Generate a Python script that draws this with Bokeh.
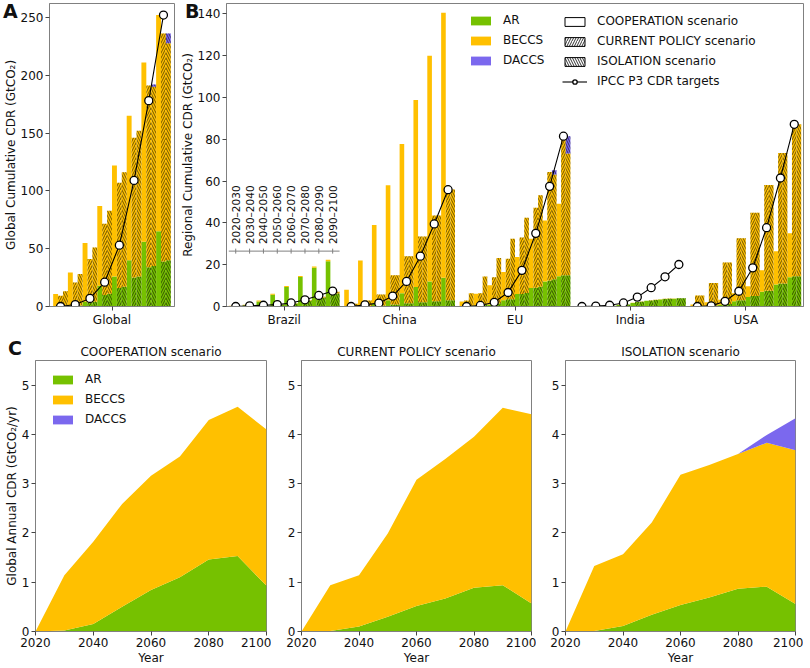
import numpy as np
from bokeh.plotting import figure
from bokeh.models import ColumnDataSource, Range1d, FixedTicker, Legend, LegendItem, Div
from bokeh.layouts import row, column
from bokeh.embed import file_html
from bokeh.resources import INLINE
from bokeh.core.properties import value

FONT = "DejaVu Sans"
GREEN = "#76c100"
ORANGE = "#ffc000"
PURPLE = "#7b68ee"
SPINE = "#808080"
TEXT = "#111111"

PERIODS = ["2020–2030", "2030–2040", "2040–2050", "2050–2060",
           "2060–2070", "2070–2080", "2080–2090", "2090–2100"]
REGIONS = ["Brazil", "China", "EU", "India", "USA"]
YEARS = [2020, 2030, 2040, 2050, 2060, 2070, 2080, 2090, 2100]
ZERO8 = [0, 0, 0, 0, 0, 0, 0, 0]

# ---------------- Panel A: global cumulative CDR (GtCO2) ----------------
GLOBAL_COOP_AR = [0.3, 0.8, 4.0, 18.0, 26.0, 40.0, 56.0, 65.0]
GLOBAL_COOP_BECCS = [10.6, 28.5, 51.0, 69.0, 96.0, 125.0, 155.0, 187.0]
GLOBAL_CP_AR = [0.2, 0.8, 3.5, 10.0, 16.0, 25.0, 34.0, 39.0]
GLOBAL_CP_BECCS = [9.0, 19.9, 37.5, 61.5, 91.0, 121.0, 157.0, 197.0]
GLOBAL_ISO_AR = [0.2, 0.8, 4.0, 11.0, 17.0, 26.0, 35.0, 40.0]
GLOBAL_ISO_BECCS = [13.0, 27.3, 47.0, 71.7, 99.0, 126.0, 155.0, 187.7]
GLOBAL_ISO_DACCS = [0, 0, 0, 0, 0, 0, 2.0, 8.3]
GLOBAL_TARGET = [0, 1.7, 7.0, 21.0, 53.0, 109.0, 178.0, 252.0]

# ---------------- Panel B: regional cumulative CDR (GtCO2) ----------------
BRAZIL_COOP_AR = [0.25, 0.6, 2.4, 5.6, 9.3, 14.1, 18.6, 21.6]
BRAZIL_COOP_BECCS = [0.05, 0.2, 0.5, 0.5, 0.5, 0.5, 0.6, 0.8]
BRAZIL_CP_AR = [0.1, 0.2, 0.35, 0.7, 1.3, 2.5, 4.0, 6.0]
BRAZIL_CP_BECCS = [0.0, 0.0, 0.05, 0.1, 0.2, 0.3, 0.5, 0.8]
BRAZIL_ISO_AR = [0.1, 0.2, 0.35, 0.8, 1.4, 2.7, 4.2, 6.2]
BRAZIL_ISO_BECCS = [0.0, 0.0, 0.05, 0.1, 0.2, 0.3, 0.5, 0.8]
BRAZIL_TARGET = [0, 0.3, 0.6, 0.9, 1.7, 3.2, 5.3, 7.4]

CHINA_COOP_AR = [0.0, 0.5, 1.5, 3.0, 6.4, 9.3, 12.0, 13.7]
CHINA_COOP_BECCS = [8.0, 21.5, 37.5, 55.0, 71.4, 89.5, 108.0, 126.9]
CHINA_CP_AR = [0.0, 0.2, 0.5, 1.0, 1.5, 2.0, 2.5, 3.0]
CHINA_CP_BECCS = [1.3, 2.7, 5.3, 13.9, 22.5, 31.5, 41.1, 53.0]
CHINA_ISO_AR = [0.0, 0.2, 0.5, 1.0, 1.5, 2.0, 2.5, 3.0]
CHINA_ISO_BECCS = [1.3, 2.7, 5.3, 13.9, 22.5, 31.5, 41.1, 53.0]
CHINA_TARGET = [0, 0.8, 1.6, 5.0, 12.0, 24.1, 39.5, 55.9]

EU_COOP_AR = [0.2, 0.5, 1.0, 3.0, 6.0, 8.8, 12.0, 14.5]
EU_COOP_BECCS = [2.2, 5.6, 9.2, 13.5, 17.7, 23.6, 29.2, 34.7]
EU_CP_AR = [0.2, 0.5, 1.2, 3.5, 6.0, 9.0, 12.5, 15.0]
EU_CP_BECCS = [2.7, 5.9, 12.8, 19.4, 27.0, 38.3, 51.9, 66.2]
EU_ISO_AR = [0.3, 0.8, 1.5, 3.5, 6.5, 9.5, 13.0, 15.0]
EU_ISO_BECCS = [6.1, 13.6, 21.7, 28.9, 36.0, 43.7, 50.2, 58.2]
EU_ISO_DACCS = [0, 0, 0, 0, 0, 0, 2.0, 8.3]
EU_TARGET = [0, 0.5, 2.0, 6.7, 17.3, 35.0, 57.5, 81.5]

INDIA_COOP_AR = [0.0, 0.1, 0.3, 0.75, 1.7, 2.7, 3.4, 3.7]
INDIA_COOP_BECCS = [0.0, 0.0, 0.0, 0.05, 0.1, 0.1, 0.1, 0.1]
INDIA_CP_AR = [0.0, 0.1, 0.4, 0.95, 2.1, 2.9, 3.6, 3.9]
INDIA_CP_BECCS = [0.0, 0.0, 0.0, 0.05, 0.1, 0.1, 0.1, 0.1]
INDIA_ISO_AR = [0.0, 0.1, 0.4, 0.95, 2.3, 3.1, 3.7, 3.9]
INDIA_ISO_BECCS = [0.0, 0.0, 0.0, 0.05, 0.1, 0.1, 0.1, 0.1]
INDIA_TARGET = [0, 0.2, 0.6, 1.7, 4.5, 9.0, 14.2, 20.1]

USA_COOP_AR = [0.1, 0.3, 0.8, 2.5, 4.5, 7.0, 10.5, 14.0]
USA_COOP_BECCS = [0.9, 1.7, 2.4, 3.9, 5.2, 10.3, 15.9, 21.1]
USA_CP_AR = [0.2, 0.5, 1.2, 3.0, 5.0, 7.5, 11.0, 14.5]
USA_CP_BECCS = [5.1, 10.8, 19.9, 29.7, 39.9, 50.6, 62.5, 72.7]
USA_ISO_AR = [0.2, 0.5, 1.2, 3.0, 5.0, 7.5, 11.0, 14.5]
USA_ISO_BECCS = [5.1, 10.8, 19.9, 29.7, 39.9, 50.6, 62.5, 72.7]
USA_TARGET = [0, 0.3, 2.5, 7.3, 18.5, 37.7, 61.5, 87.2]

# ---------------- Panel C: global annual CDR (GtCO2/yr) ----------------
COOP_AR = [0, 0.02, 0.15, 0.50, 0.84, 1.10, 1.46, 1.53, 0.93]
COOP_BECCS = [0, 1.12, 1.67, 2.09, 2.32, 2.45, 2.83, 3.03, 3.17]
COOP_DACCS = [0, 0, 0, 0, 0, 0, 0, 0, 0]
CP_AR = [0, 0.01, 0.10, 0.30, 0.52, 0.67, 0.89, 0.94, 0.57]
CP_BECCS = [0, 0.93, 1.04, 1.69, 2.56, 2.83, 3.06, 3.60, 3.84]
CP_DACCS = [0, 0, 0, 0, 0, 0, 0, 0, 0]
ISO_AR = [0, 0.01, 0.11, 0.34, 0.54, 0.69, 0.87, 0.91, 0.56]
ISO_BECCS = [0, 1.32, 1.46, 1.87, 2.64, 2.69, 2.73, 2.92, 3.12]
ISO_DACCS = [0, 0, 0, 0, 0, 0, 0, 0.16, 0.65]

# ---------------- layout constants ----------------
PERIOD_STEP = 0.12
BAR_W = 0.04
OFFSETS = {"coop": -0.04, "cp": 0.0, "iso": 0.04}
HATCH = {"coop": None, "cp": "/", "iso": "\\"}
BRAZIL_INSET_Y = 26.5
HIDDEN_X = -100  # legend-only proxy glyphs sit far outside the visible range


def period_x(center):
    return [center + (i - 3.5) * PERIOD_STEP for i in range(len(PERIODS))]


def style_axes(p):
    p.xgrid.visible = False
    p.ygrid.visible = False
    p.outline_line_color = SPINE
    p.outline_line_width = 1
    p.background_fill_color = "white"
    p.border_fill_color = "white"
    for ax in p.axis:
        ax.axis_line_color = SPINE
        ax.major_tick_line_color = "#444444"
        ax.major_tick_in = 0
        ax.major_tick_out = 4
        ax.minor_tick_line_color = None
        ax.major_label_text_font = FONT
        ax.major_label_text_font_size = "12px"
        ax.major_label_text_color = TEXT
        ax.axis_label_text_font = FONT
        ax.axis_label_text_font_size = "12px"
        ax.axis_label_text_font_style = "normal"
        ax.axis_label_text_color = TEXT
        ax.axis_label_standoff = 0
        ax.major_label_standoff = 2


HATCH_KW = dict(hatch_color="black", hatch_alpha=0.8, hatch_weight=0.7, hatch_scale=5)


def add_stack(p, xs, ar, beccs, daccs, hatch):
    ar = np.asarray(ar, dtype=float)
    be = np.asarray(beccs, dtype=float)
    da = np.asarray(daccs, dtype=float)
    src = ColumnDataSource(dict(x=xs, b0=np.zeros_like(ar), t_ar=ar,
                                t_be=ar + be, t_da=ar + be + da))
    kw = dict(width=BAR_W, line_color=None, source=src)
    if hatch:
        kw.update(hatch_pattern=hatch, **HATCH_KW)
    p.vbar(x="x", bottom="b0", top="t_ar", fill_color=GREEN, **kw)
    p.vbar(x="x", bottom="t_ar", top="t_be", fill_color=ORANGE, **kw)
    p.vbar(x="x", bottom="t_be", top="t_da", fill_color=PURPLE, **kw)


def add_region(p, center, coop, cp, iso, target):
    base = period_x(center)
    for key, (ar, be, da) in (("coop", coop), ("cp", cp), ("iso", iso)):
        xs = [b + OFFSETS[key] for b in base]
        add_stack(p, xs, ar, be, da, HATCH[key])
    p.line(base, target, line_color="black", line_width=1.1)
    p.scatter(base, target, marker="circle", size=8, fill_color="white",
              line_color="black", line_width=1.3)


def letter_div(txt, left, top):
    return Div(text=txt, styles={
        "position": "absolute", "left": f"{left}px", "top": f"{top}px",
        "margin": "0", "padding": "0", "font-family": FONT, "font-size": "19px",
        "font-weight": "bold", "line-height": "1", "color": TEXT, "z-index": "10"})


# ---------------- Panel A ----------------
A_FH = 303
pA = figure(frame_width=125, frame_height=A_FH, min_border_left=46, min_border_right=3,
            min_border_top=3, min_border_bottom=22,
            x_range=Range1d(-0.51, 0.51), y_range=Range1d(0, 262),
            output_backend="svg", toolbar_location=None)
style_axes(pA)
add_region(pA, 0,
           (GLOBAL_COOP_AR, GLOBAL_COOP_BECCS, ZERO8),
           (GLOBAL_CP_AR, GLOBAL_CP_BECCS, ZERO8),
           (GLOBAL_ISO_AR, GLOBAL_ISO_BECCS, GLOBAL_ISO_DACCS),
           GLOBAL_TARGET)
pA.xaxis.ticker = FixedTicker(ticks=[0])
pA.xaxis.major_label_overrides = {0: "Global"}
pA.yaxis.ticker = FixedTicker(ticks=[0, 50, 100, 150, 200, 250])
pA.yaxis.axis_label = "Global Cumulative CDR (GtCO₂)"

# ---------------- Panel B ----------------
pB = figure(frame_width=577, frame_height=A_FH, min_border_left=49, min_border_right=1,
            min_border_top=3, min_border_bottom=22,
            x_range=Range1d(-0.5, 4.5), y_range=Range1d(0, 145),
            output_backend="svg", toolbar_location=None)
style_axes(pB)
REGION_SERIES = [
    ((BRAZIL_COOP_AR, BRAZIL_COOP_BECCS, ZERO8), (BRAZIL_CP_AR, BRAZIL_CP_BECCS, ZERO8),
     (BRAZIL_ISO_AR, BRAZIL_ISO_BECCS, ZERO8), BRAZIL_TARGET),
    ((CHINA_COOP_AR, CHINA_COOP_BECCS, ZERO8), (CHINA_CP_AR, CHINA_CP_BECCS, ZERO8),
     (CHINA_ISO_AR, CHINA_ISO_BECCS, ZERO8), CHINA_TARGET),
    ((EU_COOP_AR, EU_COOP_BECCS, ZERO8), (EU_CP_AR, EU_CP_BECCS, ZERO8),
     (EU_ISO_AR, EU_ISO_BECCS, EU_ISO_DACCS), EU_TARGET),
    ((INDIA_COOP_AR, INDIA_COOP_BECCS, ZERO8), (INDIA_CP_AR, INDIA_CP_BECCS, ZERO8),
     (INDIA_ISO_AR, INDIA_ISO_BECCS, ZERO8), INDIA_TARGET),
    ((USA_COOP_AR, USA_COOP_BECCS, ZERO8), (USA_CP_AR, USA_CP_BECCS, ZERO8),
     (USA_ISO_AR, USA_ISO_BECCS, ZERO8), USA_TARGET),
]
for r, (coop, cp, iso, tgt) in enumerate(REGION_SERIES):
    add_region(pB, r, coop, cp, iso, tgt)
pB.xaxis.ticker = FixedTicker(ticks=list(range(len(REGIONS))))
pB.xaxis.major_label_overrides = {i: name for i, name in enumerate(REGIONS)}
pB.yaxis.ticker = FixedTicker(ticks=[0, 20, 40, 60, 80, 100, 120, 140])
pB.yaxis.axis_label = "Regional Cumulative CDR (GtCO₂)"

# Brazil period inset axis
bx = period_x(0)
pB.segment(x0=[bx[0] - PERIOD_STEP / 2], y0=[BRAZIL_INSET_Y],
           x1=[bx[-1] + PERIOD_STEP / 2], y1=[BRAZIL_INSET_Y],
           line_color=SPINE, line_width=1)
pB.scatter(bx, [BRAZIL_INSET_Y] * len(bx), marker="dash", angle=np.pi / 2, size=5,
           line_color=SPINE, line_width=1)
pB.text(bx, [BRAZIL_INSET_Y] * len(bx), text=PERIODS, angle=np.pi / 2,
        text_align="left", text_baseline="middle", y_offset=-7,
        text_font=value(FONT), text_font_size="10.5px", text_color=TEXT)

# legend proxies for panel B (single point far outside the visible x range)
r_ar = pB.vbar(x=[HIDDEN_X], top=[1], width=BAR_W, fill_color=GREEN, line_color=None)
r_be = pB.vbar(x=[HIDDEN_X], top=[1], width=BAR_W, fill_color=ORANGE, line_color=None)
r_da = pB.vbar(x=[HIDDEN_X], top=[1], width=BAR_W, fill_color=PURPLE, line_color=None)
r_coop = pB.vbar(x=[HIDDEN_X], top=[1], width=BAR_W, fill_color="white",
                 line_color="black", line_width=1)
r_cp = pB.vbar(x=[HIDDEN_X], top=[1], width=BAR_W, fill_color="white", line_color="black",
               line_width=1, hatch_pattern="/", hatch_color="black", hatch_scale=5,
               hatch_weight=0.8)
r_iso = pB.vbar(x=[HIDDEN_X], top=[1], width=BAR_W, fill_color="white", line_color="black",
                line_width=1, hatch_pattern="\\", hatch_color="black", hatch_scale=5,
                hatch_weight=0.8)
r_tl = pB.line(x=[HIDDEN_X, HIDDEN_X - 1], y=[1, 1], line_color="black", line_width=1.1)
r_tc = pB.scatter(x=[HIDDEN_X], y=[1], marker="circle", size=8, fill_color="white",
                  line_color="black", line_width=1.3)

LEG_STYLE = dict(border_line_color=None, background_fill_alpha=0, label_text_font=FONT,
                 label_text_font_size="12px", label_text_color=TEXT, glyph_width=25,
                 glyph_height=11, label_standoff=10, spacing=6, padding=0, margin=0,
                 label_height=12)
leg1 = Legend(items=[LegendItem(label="AR", renderers=[r_ar]),
                     LegendItem(label="BECCS", renderers=[r_be]),
                     LegendItem(label="DACCS", renderers=[r_da])],
              location=(242, A_FH - 64), **LEG_STYLE)
leg2 = Legend(items=[LegendItem(label="COOPERATION scenario", renderers=[r_coop]),
                     LegendItem(label="CURRENT POLICY scenario", renderers=[r_cp]),
                     LegendItem(label="ISOLATION scenario", renderers=[r_iso]),
                     LegendItem(label="IPCC P3 CDR targets", renderers=[r_tl, r_tc])],
              location=(336, A_FH - 85), **LEG_STYLE)
pB.add_layout(leg1, "center")
pB.add_layout(leg2, "center")

# ---------------- Panel C ----------------
C_FH = 271
C_SPECS = [
    ("COOPERATION scenario", COOP_AR, COOP_BECCS, COOP_DACCS, 35, 231, 5),
    ("CURRENT POLICY scenario", CP_AR, CP_BECCS, CP_DACCS, 30, 230, 5),
    ("ISOLATION scenario", ISO_AR, ISO_BECCS, ISO_DACCS, 29, 230, 8),
]
c_figs = []
for k, (title, ar, be, da, bl, fw, br) in enumerate(C_SPECS):
    p = figure(frame_width=fw, frame_height=C_FH, min_border_left=bl, min_border_right=br,
               min_border_top=31, min_border_bottom=36,
               x_range=Range1d(2020, 2100), y_range=Range1d(0, 5.5),
               output_backend="svg", toolbar_location=None)
    style_axes(p)
    p.title.text = title
    p.title.align = "center"
    p.title.text_font = FONT
    p.title.text_font_size = "12px"
    p.title.text_font_style = "normal"
    p.title.text_color = TEXT
    p.title.standoff = 4
    src = ColumnDataSource(dict(year=YEARS, ar=ar, beccs=be, daccs=da))
    rs = p.varea_stack(["ar", "beccs", "daccs"], x="year",
                       color=[GREEN, ORANGE, PURPLE], source=src)
    p.xaxis.ticker = FixedTicker(ticks=[2020, 2040, 2060, 2080, 2100])
    p.yaxis.ticker = FixedTicker(ticks=[0, 1, 2, 3, 4, 5])
    p.xaxis.axis_label = "Year"
    p.xaxis.axis_label_standoff = 1
    if k == 0:
        p.yaxis.axis_label = "Global Annual CDR (GtCO₂/yr)"
        legC = Legend(items=[LegendItem(label="AR", renderers=[rs[0]]),
                             LegendItem(label="BECCS", renderers=[rs[1]]),
                             LegendItem(label="DACCS", renderers=[rs[2]])],
                      location=(15, C_FH - 66), **LEG_STYLE)
        p.add_layout(legC, "center")
    c_figs.append(p)

letters = [letter_div("A", 3, 2), letter_div("B", 185, 2), letter_div("C", 8, 339)]
layout = column(*letters, row(pA, pB), row(*c_figs))
open("out.html", "w").write(file_html(layout, INLINE))
